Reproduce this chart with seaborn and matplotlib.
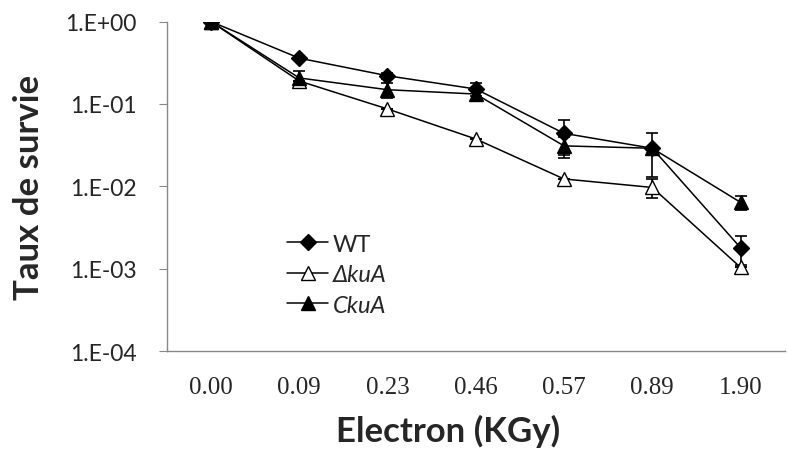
import numpy as np
import pandas as pd
import matplotlib
matplotlib.use("Agg")
import matplotlib.pyplot as plt
from matplotlib.ticker import FixedLocator, FuncFormatter
import seaborn as sns

# doses (categories on x)
doses = ["0.00", "0.09", "0.23", "0.46", "0.57", "0.89", "1.90"]

# survival rates
wt = [1.0, 0.36, 0.22, 0.152, 0.044, 0.029, 0.0018]
dkua = [1.0, 0.19, 0.087, 0.0376, 0.0123, 0.0097, 0.00104]
ckua = [1.0, 0.207, 0.149, 0.132, 0.031, 0.029, 0.0064]

# error bars (+/-)
wt_err = [0.0, 0.0, 0.02, 0.028, 0.02, 0.016, 0.0007]
dkua_err = [0.0, 0.0, 0.0, 0.0, 0.0, 0.0025, 0.0]
ckua_err = [0.0, 0.045, 0.03, 0.02, 0.009, 0.0, 0.0013]

series = ["WT", "ΔkuA", "CkuA"]

df = pd.DataFrame({
    "dose": doses * 3,
    "survie": wt + dkua + ckua,
    "err": wt_err + dkua_err + ckua_err,
    "souche": [s for s in series for _ in doses],
})

sns.set_style("white")
plt.rcParams["font.family"] = ["Lato", "DejaVu Sans"]

fig = plt.figure(figsize=(7.87, 4.52), dpi=100)
ax = fig.add_axes([0.212, 0.221, 0.785, 0.729])

styles = {
    "WT": dict(marker="D", markersize=8, markerfacecolor="black"),
    "ΔkuA": dict(marker="^", markersize=10, markerfacecolor="white"),
    "CkuA": dict(marker="^", markersize=10, markerfacecolor="black"),
}

for s in series:
    sub = df[df["souche"] == s]
    ax.errorbar(sub["dose"], sub["survie"], yerr=sub["err"], fmt="none",
                ecolor="black", elinewidth=1.2, capsize=4, capthick=1.2, zorder=2)
    sns.lineplot(data=sub, x="dose", y="survie", ax=ax, color="black",
                 linewidth=1.1, markeredgecolor="black", markeredgewidth=1.0,
                 label=s, zorder=3, **styles[s])

ax.set_yscale("log")
ax.set_ylim(1e-4, 1)
ax.set_xlim(-0.5, len(doses) - 0.5)

ax.yaxis.set_major_locator(FixedLocator([1e-4, 1e-3, 1e-2, 1e-1, 1]))
ax.yaxis.set_minor_locator(FixedLocator([]))
ax.yaxis.set_major_formatter(FuncFormatter(lambda v, p: f"1.E{int(round(np.log10(v))):+03d}"))

# Excel-like ticks between categories
ax.set_xticks(np.arange(-0.5, len(doses), 1), minor=True)
ax.tick_params(axis="x", which="major", length=0, pad=18, labelsize=18,
               labelfontfamily="Liberation Serif")
ax.tick_params(axis="x", which="minor", length=6, color="#888888", direction="out")
ax.tick_params(axis="y", which="major", length=6, color="#888888", direction="out",
               left=True, pad=16, labelsize=16.5)

for side in ["top", "right"]:
    ax.spines[side].set_visible(False)
for side in ["left", "bottom"]:
    ax.spines[side].set_color("#888888")
    ax.spines[side].set_linewidth(1.0)

ax.set_xlabel("Electron (KGy)", fontsize=25, fontweight="bold")
ax.xaxis.set_label_coords(0.455, -0.19)
ax.set_ylabel("Taux de survie", fontsize=25, fontweight="bold", labelpad=14)

leg = ax.legend(loc="upper left", bbox_to_anchor=(0.18, 0.385), frameon=False,
                fontsize=17, handlelength=1.7, handletextpad=0.2, labelspacing=0.4,
                borderaxespad=0)
for t in leg.get_texts():
    if t.get_text() != "WT":
        t.set_fontstyle("italic")

fig.savefig("out.png", dpi=100)
